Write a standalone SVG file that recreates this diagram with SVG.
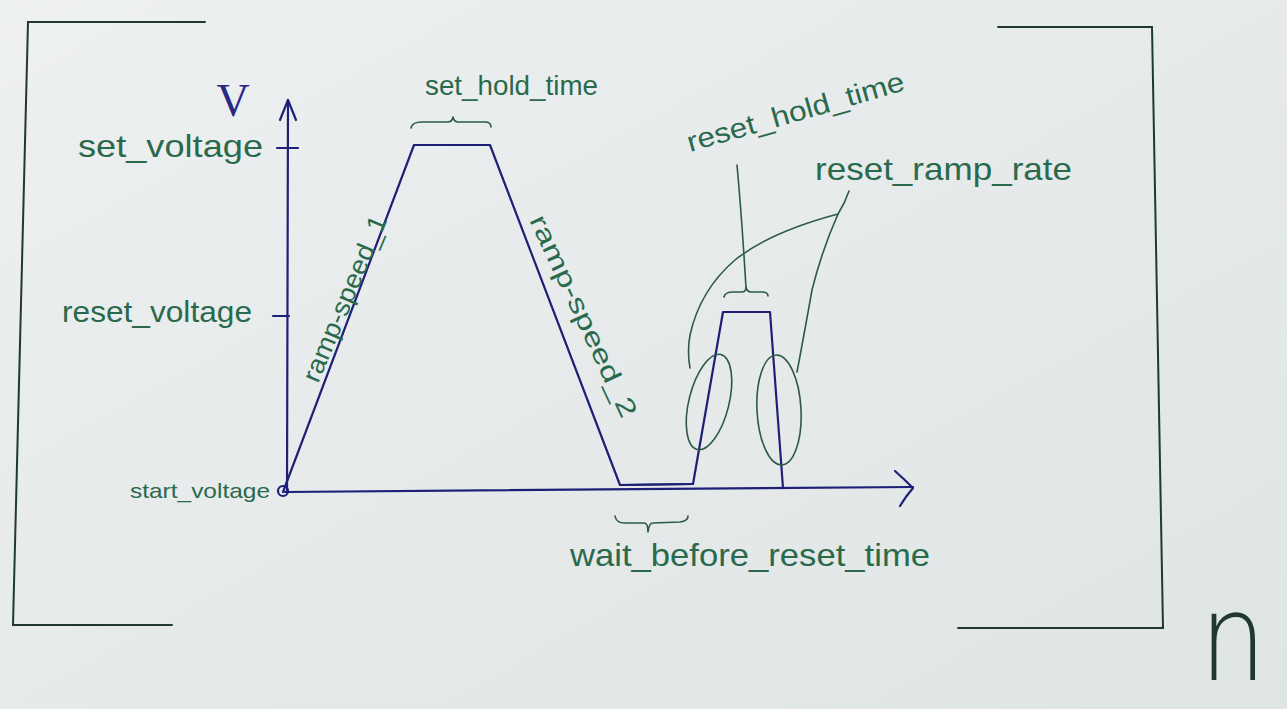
<svg xmlns="http://www.w3.org/2000/svg" width="1287" height="709" viewBox="0 0 1287 709">
  <defs>
    <linearGradient id="paper" x1="0" y1="0" x2="1" y2="1">
      <stop offset="0" stop-color="#eef0f1"/>
      <stop offset="0.5" stop-color="#e6eaeb"/>
      <stop offset="1" stop-color="#dfe4e4"/>
    </linearGradient>
    <style>
      .blue { stroke: #1d2076; fill: none; stroke-width: 2.2; stroke-linecap: round; stroke-linejoin: round; }
      .green { stroke: #2c5a45; fill: none; stroke-width: 1.6; stroke-linecap: round; stroke-linejoin: round; }
      .frame { stroke: #1f3a2c; fill: none; stroke-width: 2; stroke-linecap: round; }
      .lbl { font-family: "Liberation Sans", "DejaVu Sans", sans-serif; fill: #2a6a4c; }
    </style>
  </defs>
  <rect width="1287" height="709" fill="url(#paper)"/>

  <g id="frame">
    <path class="frame" d="M205,22 L28,22 L13,625 L172,625"/>
    <path class="frame" d="M998,27 L1152,27 L1163,628 L958,628"/>
  </g>

  <g id="axes">
    <path class="blue" d="M287,492 L288,100"/>
    <path class="blue" d="M280,120 L288,100 L296,120"/>
    <path class="blue" d="M285,492 L913,487"/>
    <path class="blue" d="M895,471 Q905,480 913,488 Q906,496 900,506"/>
    <circle class="blue" cx="283" cy="491" r="5" stroke-width="1.8"/>
    <path class="blue" d="M277,148 L298,148"/>
    <path class="blue" d="M273,316 L289,316"/>
    <text x="233" y="116" text-anchor="middle" font-family="Liberation Serif, serif" font-size="46" fill="#262a86">V</text>
  </g>

  <g id="waveform">
    <path class="blue" d="M283,492 L414,145 L490,145 L620,485 L693,484 L723,312 L770,312 L783,488"/>
    <path class="blue" d="M620,485 L693,484" stroke-width="4"/>
  </g>

  <g id="axis-labels">
    <text class="lbl" x="78" y="157" font-size="32" textLength="185" lengthAdjust="spacingAndGlyphs">set_voltage</text>
    <text class="lbl" x="62" y="322" font-size="30" textLength="190" lengthAdjust="spacingAndGlyphs">reset_voltage</text>
    <text class="lbl" x="130" y="498" font-size="21" textLength="140" lengthAdjust="spacingAndGlyphs">start_voltage</text>
  </g>

  <g id="ramp-speed-1">
    <text class="lbl" x="0" y="0" font-size="26" textLength="178" lengthAdjust="spacingAndGlyphs" transform="translate(318,384) rotate(-67)">ramp-speed_1</text>
  </g>

  <g id="ramp-speed-2">
    <text class="lbl" x="0" y="0" font-size="26" textLength="220" lengthAdjust="spacingAndGlyphs" transform="translate(529,220) rotate(65)">ramp-speed_2</text>
  </g>

  <g id="set-hold-time">
    <text class="lbl" x="425" y="95" font-size="28" textLength="173" lengthAdjust="spacingAndGlyphs">set_hold_time</text>
    <path class="green" d="M411,128 Q412,122 422,122 L448,122 Q452,122 453,117 Q454,122 458,122 L485,122 Q491,122 491,127"/>
  </g>

  <g id="reset-hold-time">
    <text class="lbl" x="0" y="0" font-size="28" textLength="225" lengthAdjust="spacingAndGlyphs" transform="translate(690,152) rotate(-16)">reset_hold_time</text>
    <path class="green" d="M737,165 Q742,220 746,288"/>
    <path class="green" d="M724,297 Q725,292 733,292 L742,292 Q746,292 746,287 Q747,292 751,292 L762,292 Q768,292 768,296"/>
  </g>

  <g id="reset-ramp-rate">
    <text class="lbl" x="815" y="180" font-size="32" textLength="257" lengthAdjust="spacingAndGlyphs">reset_ramp_rate</text>
    <ellipse class="green" cx="709" cy="402" rx="20" ry="49" transform="rotate(14 709 402)"/>
    <ellipse class="green" cx="779" cy="410" rx="22" ry="55" transform="rotate(-3 779 410)"/>
    <path class="green" d="M849,191 Q845,203 838,214 Q770,232 735,260 Q700,290 690,335 Q687,352 690,368"/>
    <path class="green" d="M838,214 Q822,250 812,290 Q804,335 797,372"/>
  </g>

  <g id="wait-before-reset-time">
    <path class="green" d="M615,516 Q616,523 625,523 L644,523 Q648,523 648,532 Q649,523 653,523 L680,522 Q688,521 688,516"/>
    <text class="lbl" x="570" y="566" font-size="32" textLength="360" lengthAdjust="spacingAndGlyphs">wait_before_reset_time</text>
  </g>

  <g id="page-mark">
    <text x="0" y="0" text-anchor="middle" font-family="DejaVu Sans ExtraLight, DejaVu Sans, sans-serif" font-weight="200" font-size="100" fill="#1f3a2c" transform="translate(1233,680) scale(1.05,1.22)">n</text>
  </g>
</svg>
